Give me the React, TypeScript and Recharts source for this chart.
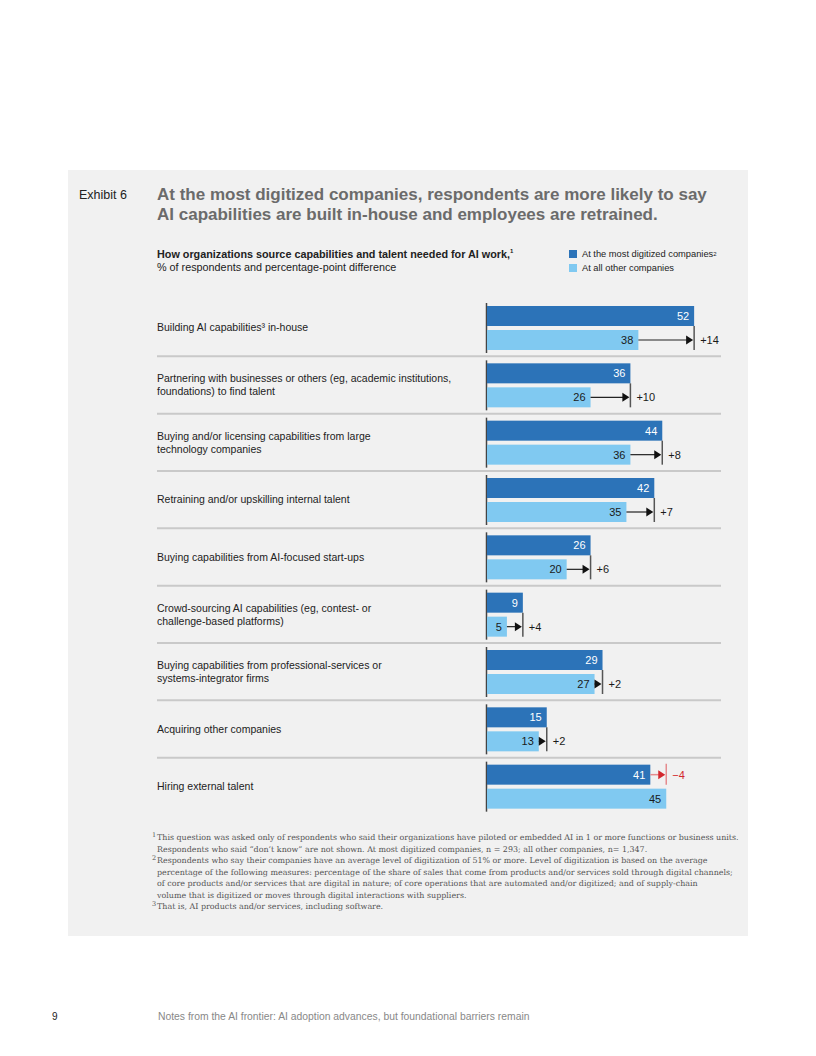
import React from 'react';
import { Bar, BarChart, XAxis, YAxis } from 'recharts';

const categories = [
  'Building AI capabilities³ in-house',
  'Partnering with businesses or others (eg, academic institutions,\nfoundations) to find talent',
  'Buying and/or licensing capabilities from large\ntechnology companies',
  'Retraining and/or upskilling internal talent',
  'Buying capabilities from AI-focused start-ups',
  'Crowd-sourcing AI capabilities (eg, contest- or\nchallenge-based platforms)',
  'Buying capabilities from professional-services or\nsystems-integrator firms',
  'Acquiring other companies',
  'Hiring external talent',
];
const mostDigitized = [52, 36, 44, 42, 26, 9, 29, 15, 41];
const allOthers = [38, 26, 36, 35, 20, 5, 27, 13, 45];
const differences = ['+14', '+10', '+8', '+7', '+6', '+4', '+2', '+2', '\u22124'];

const footnotes = [
  { mark: '1', text: 'This question was asked only of respondents who said their organizations have piloted or embedded AI in 1 or more functions or business units.' },
  { mark: '', text: 'Respondents who said \u201cdon\u2019t know\u201d are not shown. At most digitized companies, n = 293; all other companies, n= 1,347.' },
  { mark: '2', text: 'Respondents who say their companies have an average level of digitization of 51% or more. Level of digitization is based on the average' },
  { mark: '', text: 'percentage of the following measures: percentage of the share of sales that come from products and/or services sold through digital channels;' },
  { mark: '', text: 'of core products and/or services that are digital in nature; of core operations that are automated and/or digitized; and of supply-chain' },
  { mark: '', text: 'volume that is digitized or moves through digital interactions with suppliers.' },
  { mark: '3', text: 'That is, AI products and/or services, including software.' },
];

const data = categories.map((label, i) => ({
  label,
  top: mostDigitized[i],
  other: allOthers[i],
  diff: differences[i],
}));

const DARK = '#2c73b8';
const LIGHT = '#80c9f1';
const RED = '#d3272d';
const SANS = '"Liberation Sans", Arial, Helvetica, sans-serif';
const SERIF = '"DejaVu Serif", Georgia, serif';

const BAR = 20;
const GAP = 4;
const ROW = 57.3;
const LABEL_X = 7;
const SEP_END = 571;

const CategoryTick = (props: any) => {
  const { y, payload, index } = props;
  const lines: string[] = String(payload.value).split('\n');
  const lh = 13;
  const y0 = y - ((lines.length - 1) * lh) / 2;
  return (
    <g>
      <text fontSize={10.5} fill="#222" fontFamily={SANS}>
        {lines.map((l, i) => (
          <tspan key={i} x={LABEL_X} y={y0 + i * lh} dy="0.35em">
            {l}
          </tspan>
        ))}
      </text>
      {index < categories.length - 1 && (
        <line x1={LABEL_X} x2={SEP_END} y1={y + ROW / 2} y2={y + ROW / 2} stroke="#c9c9c9" strokeWidth={2} />
      )}
    </g>
  );
};

const TopShape = (props: any) => {
  const { x, y, width, height, payload } = props;
  const unit = width / payload.top;
  const end = x + width;
  const otherEnd = x + payload.other * unit;
  const cy = y + height / 2;
  return (
    <g>
      <line x1={x - 0.5} x2={x - 0.5} y1={y - 3} y2={y + height * 2 + GAP + 3} stroke="#444" strokeWidth={1.5} />
      <rect x={x} y={y} width={width} height={height} fill={DARK} />
      <text x={end - 5} y={cy} dy="0.36em" textAnchor="end" fill="#fff" fontSize={11} fontFamily={SANS}>
        {payload.top}
      </text>
      {payload.other > payload.top && (
        <g>
          <line x1={end} x2={otherEnd - 6} y1={cy} y2={cy} stroke="#e58b8e" strokeWidth={1.5} />
          <polygon points={`${otherEnd - 8},${cy - 4.5} ${otherEnd - 1},${cy} ${otherEnd - 8},${cy + 4.5}`} fill={RED} />
          <line x1={otherEnd} x2={otherEnd} y1={y - 1} y2={y + height} stroke="#e58b8e" strokeWidth={1.5} />
          <text x={otherEnd + 6} y={cy} dy="0.36em" fill={RED} fontSize={11} fontFamily={SANS}>
            {payload.diff}
          </text>
        </g>
      )}
    </g>
  );
};

const OtherShape = (props: any) => {
  const { x, y, width, height, payload } = props;
  const unit = width / payload.other;
  const end = x + width;
  const topEnd = x + payload.top * unit;
  const cy = y + height / 2;
  return (
    <g>
      <rect x={x} y={y} width={width} height={height} fill={LIGHT} />
      <text x={end - 5} y={cy} dy="0.36em" textAnchor="end" fill="#1a1a1a" fontSize={11} fontFamily={SANS}>
        {payload.other}
      </text>
      {payload.top > payload.other && (
        <g>
          <line x1={end} x2={topEnd - 6} y1={cy} y2={cy} stroke="#222" strokeWidth={1.2} />
          <polygon points={`${topEnd - 8},${cy - 4.5} ${topEnd - 1},${cy} ${topEnd - 8},${cy + 4.5}`} fill="#111" />
          <line x1={topEnd} x2={topEnd} y1={y - GAP} y2={y + height} stroke="#555" strokeWidth={1.5} />
          <text x={topEnd + 6} y={cy} dy="0.36em" fill="#1a1a1a" fontSize={11} fontFamily={SANS}>
            {payload.diff}
          </text>
        </g>
      )}
    </g>
  );
};

export default function App() {
  return (
    <div style={{ position: 'absolute', left: 0, top: 0, width: 816, height: 1056, background: '#fff', fontFamily: SANS }}>
      <div style={{ position: 'absolute', left: 68, top: 170, width: 680, height: 766, background: '#f1f1f1' }} />

      <div style={{ position: 'absolute', left: 79, top: 188, fontSize: 12.5, color: '#222', whiteSpace: 'nowrap' }}>Exhibit 6</div>
      <div style={{ position: 'absolute', left: 157, top: 185, fontSize: 17, lineHeight: '20px', fontWeight: 'bold', color: '#6b6b6b', whiteSpace: 'nowrap' }}>
        <div>At the most digitized companies, respondents are more likely to say</div>
        <div>AI capabilities are built in-house and employees are retrained.</div>
      </div>

      <div style={{ position: 'absolute', left: 157, top: 245, fontSize: 10.8, lineHeight: '13px', color: '#222', whiteSpace: 'nowrap' }}>
        <div style={{ fontWeight: 'bold' }}>
          How organizations source capabilities and talent needed for AI work,<sup style={{ fontSize: 6 }}>1</sup>
        </div>
        <div>% of respondents and percentage-point difference</div>
      </div>

      <div style={{ position: 'absolute', left: 569, top: 247, fontSize: 9.3, lineHeight: '14px', color: '#222', whiteSpace: 'nowrap' }}>
        <div style={{ display: 'flex', alignItems: 'center' }}>
          <span style={{ width: 8, height: 8, background: DARK, marginRight: 5, display: 'inline-block' }} />
          At the most digitized companies<sup style={{ fontSize: 6 }}>2</sup>
        </div>
        <div style={{ display: 'flex', alignItems: 'center' }}>
          <span style={{ width: 8, height: 8, background: LIGHT, marginRight: 5, display: 'inline-block' }} />
          At all other companies
        </div>
      </div>

      <div style={{ position: 'absolute', left: 150, top: 290 }}>
        <BarChart
          width={600}
          height={530}
          data={data}
          layout="vertical"
          margin={{ top: 9, right: 24, bottom: 5, left: 0 }}
          barSize={BAR}
          barGap={GAP}
        >
          <XAxis type="number" domain={[0, 60]} hide />
          <YAxis
            type="category"
            dataKey="label"
            width={337}
            interval={0}
            tickLine={false}
            axisLine={false}
            tick={<CategoryTick />}
          />
          <Bar dataKey="top" isAnimationActive={false} shape={<TopShape />} />
          <Bar dataKey="other" isAnimationActive={false} shape={<OtherShape />} />
        </BarChart>
      </div>

      <div style={{ position: 'absolute', left: 157, top: 832, fontFamily: SERIF, fontSize: 7.95, lineHeight: '11.5px', color: '#555', whiteSpace: 'nowrap' }}>
        {footnotes.map((f, i) => (
          <div key={i} style={{ position: 'relative' }}>
            {f.mark && <span style={{ position: 'absolute', left: -5, top: -2, fontSize: 6.5 }}>{f.mark}</span>}
            {f.text}
          </div>
        ))}
      </div>

      <div style={{ position: 'absolute', left: 52, top: 1011, fontSize: 10, color: '#222' }}>9</div>
      <div style={{ position: 'absolute', left: 158, top: 1011, fontSize: 10.35, color: '#888', whiteSpace: 'nowrap' }}>
        Notes from the AI frontier: AI adoption advances, but foundational barriers remain
      </div>
    </div>
  );
}
